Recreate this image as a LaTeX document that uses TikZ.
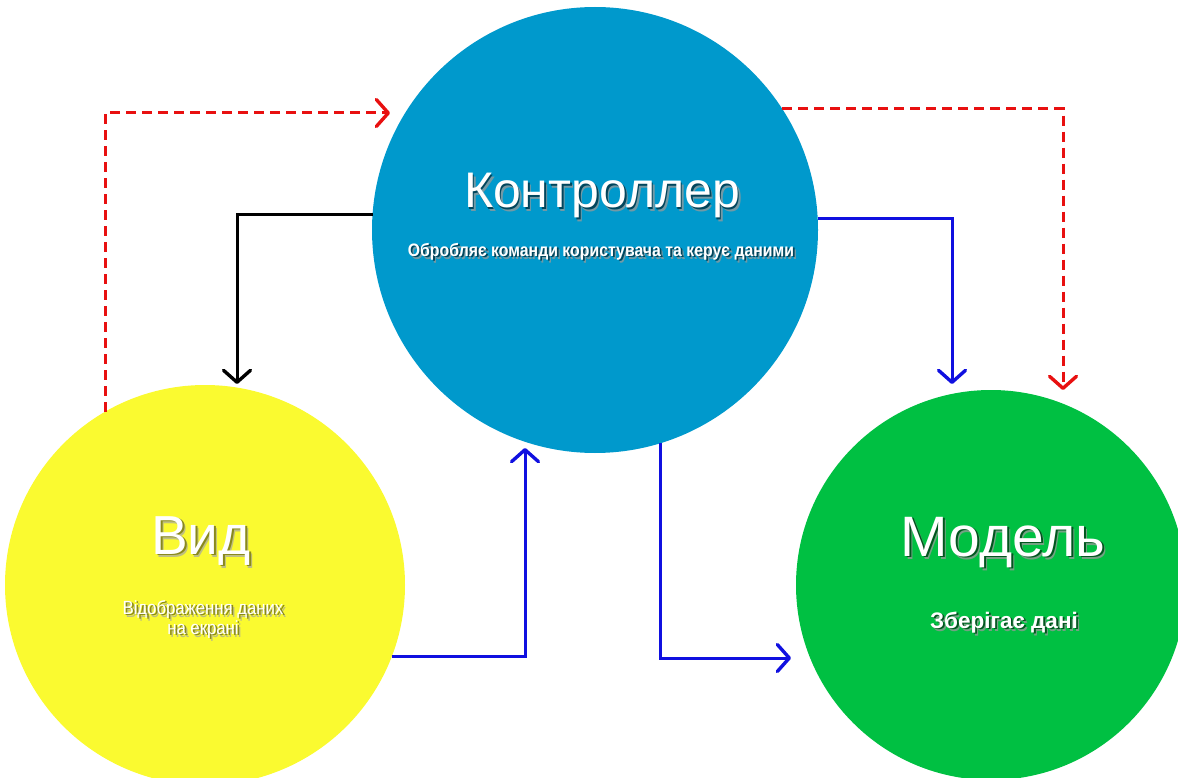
\documentclass[tikz,border=0pt]{standalone}
\usepackage{fontspec}
\setmainfont{Liberation Sans}
\newfontfamily\narrowsans[FakeStretch=0.88]{Liberation Sans}
\usetikzlibrary{arrows.meta}

\definecolor{ctrlblue}{RGB}{0,153,204}
\definecolor{viewyellow}{RGB}{250,250,48}
\definecolor{modelgreen}{RGB}{0,192,66}
\definecolor{eventred}{RGB}{232,16,16}
\definecolor{callblue}{RGB}{16,16,224}

\tikzset{
  bubble/.style={circle, inner sep=0pt, outer sep=0pt, draw=none, minimum size=#1},
  flow/.style={line width=3pt, line join=miter,
    -{Straight Barb[length=12pt, width=27pt, line width=3.4pt, line cap=round, line join=round]}},
  event/.style={flow, draw=eventred, dash pattern=on 10pt off 6pt},
  call/.style={flow, draw=callblue},
  update/.style={flow, draw=black},
  caption/.style={text=white, inner sep=0pt, anchor=base},
}

% white text over a soft darker copy of itself: shade colour, text
\newcommand\shadowed[2]{%
  \rlap{\kern3pt\raisebox{-3pt}{\color{#1!55}#2}}%
  \rlap{\kern1.8pt\raisebox{-1.8pt}{\color{#1}#2}}#2}

\begin{document}
\begin{tikzpicture}[x=1pt, y=-1pt]
  \useasboundingbox (0,0) rectangle (1178,778);

  % free ends of the connectors, where the arrow tips sit
  \coordinate (tipctrl)  at (390,113);
  \coordinate (tipmodelr) at (1063,390);
  \coordinate (tipview)  at (237,384);
  \coordinate (tipmodelb) at (952,384);
  \coordinate (tipctrlb) at (525,448);
  \coordinate (tipmodell) at (791,658);

  % the three components
  \node[bubble=400pt, fill=viewyellow] (view)  at (205,585) {};
  \node[bubble=390pt, fill=modelgreen] (model) at (991,585) {};

  % connectors
  \draw[event]  (view.120)  |- (tipctrl);
  \draw[call]   (view.-21)  -| (tipctrlb);

  \node[bubble=446pt, fill=ctrlblue] (ctrl) at (595,230) {};

  \draw[event]  (ctrl.33)   -| (tipmodelr);
  \draw[update] (ctrl.176.6) -| (tipview);
  \draw[call]   (ctrl.3.3)  -| (tipmodelb);
  \draw[call]   (ctrl.-73)  |- (tipmodell);

  % captions
  \node[caption, font=\fontsize{50}{56}\selectfont] (ctrltitle) at (602,208)
    {\shadowed{ctrlblue!45!black}{Контроллер}};
  \node[caption, font=\narrowsans\bfseries\fontsize{18}{20}\selectfont] (ctrlsub) at (601,256)
    {\shadowed{ctrlblue!45!black}{Обробляє команди користувача та керує даними}};

  \node[caption, font=\fontsize{55}{60}\selectfont] (viewtitle) at (201,554)
    {\shadowed{viewyellow!55!black}{Вид}};
  \node[caption, font=\narrowsans\fontsize{19}{20}\selectfont] (viewsuba) at (203,614)
    {\shadowed{viewyellow!55!black}{Відображення даних}};
  \node[caption, font=\narrowsans\fontsize{19}{20}\selectfont] (viewsubb) at (203,634)
    {\shadowed{viewyellow!55!black}{на екрані}};

  \node[caption, font=\fontsize{57}{62}\selectfont] (modeltitle) at (1003,556)
    {\shadowed{modelgreen!45!black}{Модель}};
  \node[caption, font=\bfseries\fontsize{22.5}{26}\selectfont] (modelsub) at (1004,628)
    {\shadowed{modelgreen!45!black}{Зберігає дані}};
\end{tikzpicture}
\end{document}
